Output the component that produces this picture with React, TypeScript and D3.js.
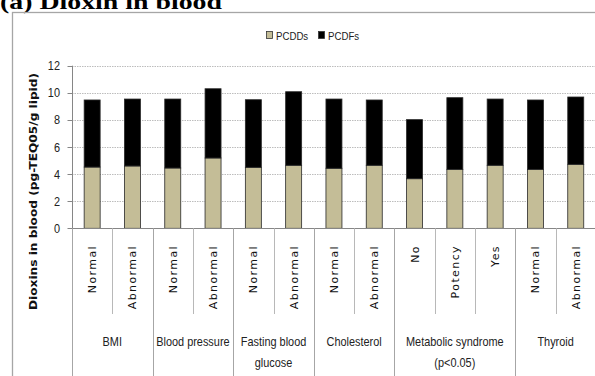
import React from "react";
import * as d3 from "d3";

const groups = ["BMI", "Blood pressure", "Fasting blood\nglucose", "Cholesterol", "Metabolic syndrome\n(p<0.05)", "Thyroid"];
const subLabels = ["Normal", "Abnormal", "Normal", "Abnormal", "Normal", "Abnormal", "Normal", "Abnormal", "No", "Potency", "Yes", "Normal", "Abnormal"];
const groupOf = [0, 0, 1, 1, 2, 2, 3, 3, 4, 4, 4, 5, 5];
const pcdds = [4.52, 4.6, 4.45, 5.19, 4.5, 4.65, 4.43, 4.65, 3.66, 4.35, 4.65, 4.35, 4.72];
const pcdfs = [4.95, 4.94, 5.09, 5.11, 4.99, 5.43, 5.11, 4.82, 4.36, 5.29, 4.89, 5.12, 4.97];
const yTicks = [0, 2, 4, 6, 8, 10, 12];
const seriesNames = ["PCDDs", "PCDFs"];
const seriesColors = ["#c4bd97", "#000000"];

const W = 595;
const H = 376;
const left = 72;
const step = 40.3;
const top = 65.7;
const bottom = 228.3;
const sans = "'Liberation Sans', Arial, sans-serif";
const SX = 0.84;

function Narrow({ x, y, anchor = "start", size, children, dy }: any) {
  return (
    <text
      transform={`translate(${x},${y}) scale(${SX},1)`}
      textAnchor={anchor}
      fontFamily={sans}
      fontSize={size}
      fill="#222"
      dy={dy}
    >
      {children}
    </text>
  );
}

export default function App() {
  const idx = subLabels.map((_, i) => i);
  const x = d3.scaleBand<number>().domain(idx).range([left, left + step * idx.length]).padding(0);
  const y = d3.scaleLinear().domain([0, 12]).range([bottom, top]);
  const barW = 16;

  const stacked = idx.map((i) => {
    const a = pcdds[i];
    const b = pcdfs[i];
    return [
      { y0: 0, y1: a },
      { y0: a, y1: a + b },
    ];
  });

  const boundaries: number[] = [0];
  for (let i = 1; i < groupOf.length; i++) if (groupOf[i] !== groupOf[i - 1]) boundaries.push(i);
  boundaries.push(groupOf.length);

  return (
    <svg width={W} height={H} style={{ position: "absolute", left: 0, top: 0, background: "#fff" }}>
      <text x={0} y={9} fontFamily="'Liberation Serif', 'Times New Roman', serif" fontWeight="bold" fontSize={21} textLength={222} lengthAdjust="spacingAndGlyphs">
        (a) Dioxin in blood
      </text>
      <rect x={12.5} y={12.5} width={W} height={H} fill="none" stroke="#a6a6a6" strokeWidth={1.3} />

      {seriesNames.map((s, k) => {
        const lx = k === 0 ? 266 : 318;
        return (
          <g key={s}>
            <rect x={lx + 0.5} y={31.5} width={6} height={7} fill={seriesColors[k]} stroke="#333" strokeWidth={0.8} />
            <Narrow x={lx + 10} y={39.5} size={11.5}>{s}</Narrow>
          </g>
        );
      })}

      {yTicks.filter((t) => t > 0).map((t) => (
        <line key={t} x1={left} x2={W} y1={Math.round(y(t)) + 0.5} y2={Math.round(y(t)) + 0.5} stroke="#bdbdbd" strokeDasharray="1.5,1" />
      ))}

      {yTicks.map((t) => (
        <g key={t}>
          <line x1={67.5} x2={left} y1={Math.round(y(t)) + 0.5} y2={Math.round(y(t)) + 0.5} stroke="#868686" />
          <Narrow x={60} y={y(t)} dy="0.35em" anchor="end" size={13}>{t}</Narrow>
        </g>
      ))}
      <line x1={left + 0.5} x2={left + 0.5} y1={top} y2={bottom} stroke="#868686" />

      <text
        transform={`translate(37,${191.5}) rotate(-90)`}
        textAnchor="middle"
        fontFamily="'DejaVu Sans', Verdana, sans-serif"
        fontWeight="bold"
        fontSize={10}
        fill="#111"
        textLength={237}
        lengthAdjust="spacingAndGlyphs"
      >
        Dioxins in blood (pg-TEQ05/g lipid)
      </text>

      {stacked.map((segs, i) =>
        segs.map((sg, k) => (
          <rect
            key={`${i}-${k}`}
            x={(x(i) as number) + (x.bandwidth() - barW) / 2}
            y={y(sg.y1)}
            width={barW}
            height={y(sg.y0) - y(sg.y1)}
            fill={seriesColors[k]}
            stroke="#2a2a2a"
            strokeWidth={0.8}
          />
        ))
      )}

      <line x1={left} x2={W} y1={Math.round(bottom) + 0.5} y2={Math.round(bottom) + 0.5} stroke="#868686" />

      {idx.concat([idx.length]).map((i) => {
        const px = Math.round(left + step * i) + 0.5;
        const isGroup = boundaries.includes(i);
        return (
          <line key={`sep${i}`} x1={px} x2={px} y1={bottom} y2={isGroup ? H : 314} stroke={isGroup ? "#a6a6a6" : "#b8b8b8"} />
        );
      })}

      {subLabels.map((s, i) => {
        const cx = (x(i) as number) + x.bandwidth() / 2;
        return (
          <text
            key={`sl${i}`}
            transform={`translate(${cx + 4},245) rotate(-90)`}
            textAnchor="end"
            fontFamily="'DejaVu Sans', Verdana, sans-serif"
            fontSize={11}
            letterSpacing={1.4}
            fill="#111"
          >
            {s}
          </text>
        );
      })}

      {groups.map((g, gi) => {
        const x0 = left + step * boundaries[gi];
        const x1 = left + step * boundaries[gi + 1];
        const cx = (x0 + x1) / 2;
        return g.split("\n").map((line, li) => (
          <Narrow key={`g${gi}-${li}`} x={cx} y={346 + li * 21} anchor="middle" size={13}>
            {line}
          </Narrow>
        ));
      })}
    </svg>
  );
}
